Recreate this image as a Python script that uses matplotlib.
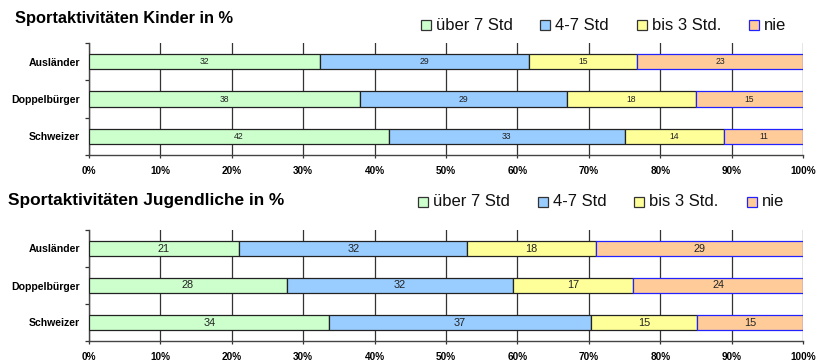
import matplotlib
matplotlib.use("Agg")
import matplotlib.pyplot as plt
from matplotlib.patches import Rectangle
import numpy as np

plt.rcParams['font.family'] = ['Liberation Sans', 'DejaVu Sans']

groups = ["Ausländer", "Doppelbürger", "Schweizer"]
series = ["über 7 Std", "4-7 Std", "bis 3 Std.", "nie"]

kinder = {
    "über 7 Std": [32, 38, 42],
    "4-7 Std": [29, 29, 33],
    "bis 3 Std.": [15, 18, 14],
    "nie": [23, 15, 11],
}
jugendliche = {
    "über 7 Std": [21, 28, 34],
    "4-7 Std": [32, 32, 37],
    "bis 3 Std.": [18, 17, 15],
    "nie": [29, 24, 15],
}

face_colors = ["#CCFFCC", "#99CCFF", "#FFFF99", "#FFCC99"]
edge_colors = ["#222222", "#222222", "#222222", "#2222FF"]

W, H = 819, 362
fig = plt.figure(figsize=(W / 100, H / 100), dpi=100)


def px_axes(left, top, right, bottom):
    return fig.add_axes([left / W, 1 - bottom / H, (right - left) / W, (bottom - top) / H])


def draw_panel(ax, data, label_size):
    vals = np.array([data[s] for s in series], dtype=float)
    totals = vals.sum(axis=0)
    shares = vals / totals * 100
    y = np.arange(len(groups))
    left = np.zeros(len(groups))
    for i, s in enumerate(series):
        bars = ax.barh(y, shares[i], left=left, height=0.41,
                       color=face_colors[i], edgecolor=edge_colors[i],
                       linewidth=0.9, zorder=3)
        for b, v in zip(bars, vals[i]):
            ax.text(b.get_x() + b.get_width() / 2, b.get_y() + b.get_height() / 2,
                    f"{int(v)}", ha="center", va="center",
                    fontsize=label_size, color="#222222", zorder=4)
        left += shares[i]
    ax.set_xlim(0, 100)
    ax.set_ylim(2.5, -0.5)
    ax.set_xticks(np.arange(0, 101, 10))
    ax.set_xticklabels([f"{t}%" for t in range(0, 101, 10)],
                       fontsize=7.2, fontweight="bold")
    ax.set_yticks(y)
    ax.set_yticklabels(groups, fontsize=7.6, fontweight="bold")
    ax.set_yticks([-0.5, 0.5, 1.5, 2.5], minor=True)
    ax.tick_params(axis="y", which="major", length=0, pad=6.5)
    ax.tick_params(axis="y", which="minor", length=3, width=0.9, color="#333333")
    ax.tick_params(axis="x", length=2, width=0.9, color="#333333", pad=6)
    ax.grid(axis="x", color="#333333", linewidth=0.9, zorder=0)
    for side in ("top", "right"):
        ax.spines[side].set_visible(False)
    for side in ("left", "bottom"):
        ax.spines[side].set_color("#444444")
        ax.spines[side].set_linewidth(1.0)
    ax.set_facecolor("white")


def draw_legend(box_x, text_y):
    for x, fc, ec, s in zip(box_x, face_colors, edge_colors, series):
        fig.patches.append(Rectangle(((x) / W, 1 - (text_y + 5) / H), 10 / W, 10 / H,
                                     transform=fig.transFigure, facecolor=fc,
                                     edgecolor=ec if ec != "#222222" else "#333333",
                                     linewidth=0.9))
        fig.text((x + 15) / W, 1 - text_y / H, s, fontsize=12,
                 va="center", ha="left", color="#111111")


ax1 = px_axes(89, 43, 803, 155)
draw_panel(ax1, kinder, 6.2)
fig.text(15 / W, 1 - 19 / H, "Sportaktivitäten Kinder in %", fontsize=11.8,
         fontweight="bold", va="center", ha="left")
draw_legend([421, 540, 637, 749], 25)

ax2 = px_axes(89, 230, 803, 341)
draw_panel(ax2, jugendliche, 7.8)
fig.text(8 / W, 1 - 201 / H, "Sportaktivitäten Jugendliche in %", fontsize=12.4,
         fontweight="bold", va="center", ha="left")
draw_legend([418, 538, 634, 747], 202)

fig.savefig("out.png", dpi=100)
